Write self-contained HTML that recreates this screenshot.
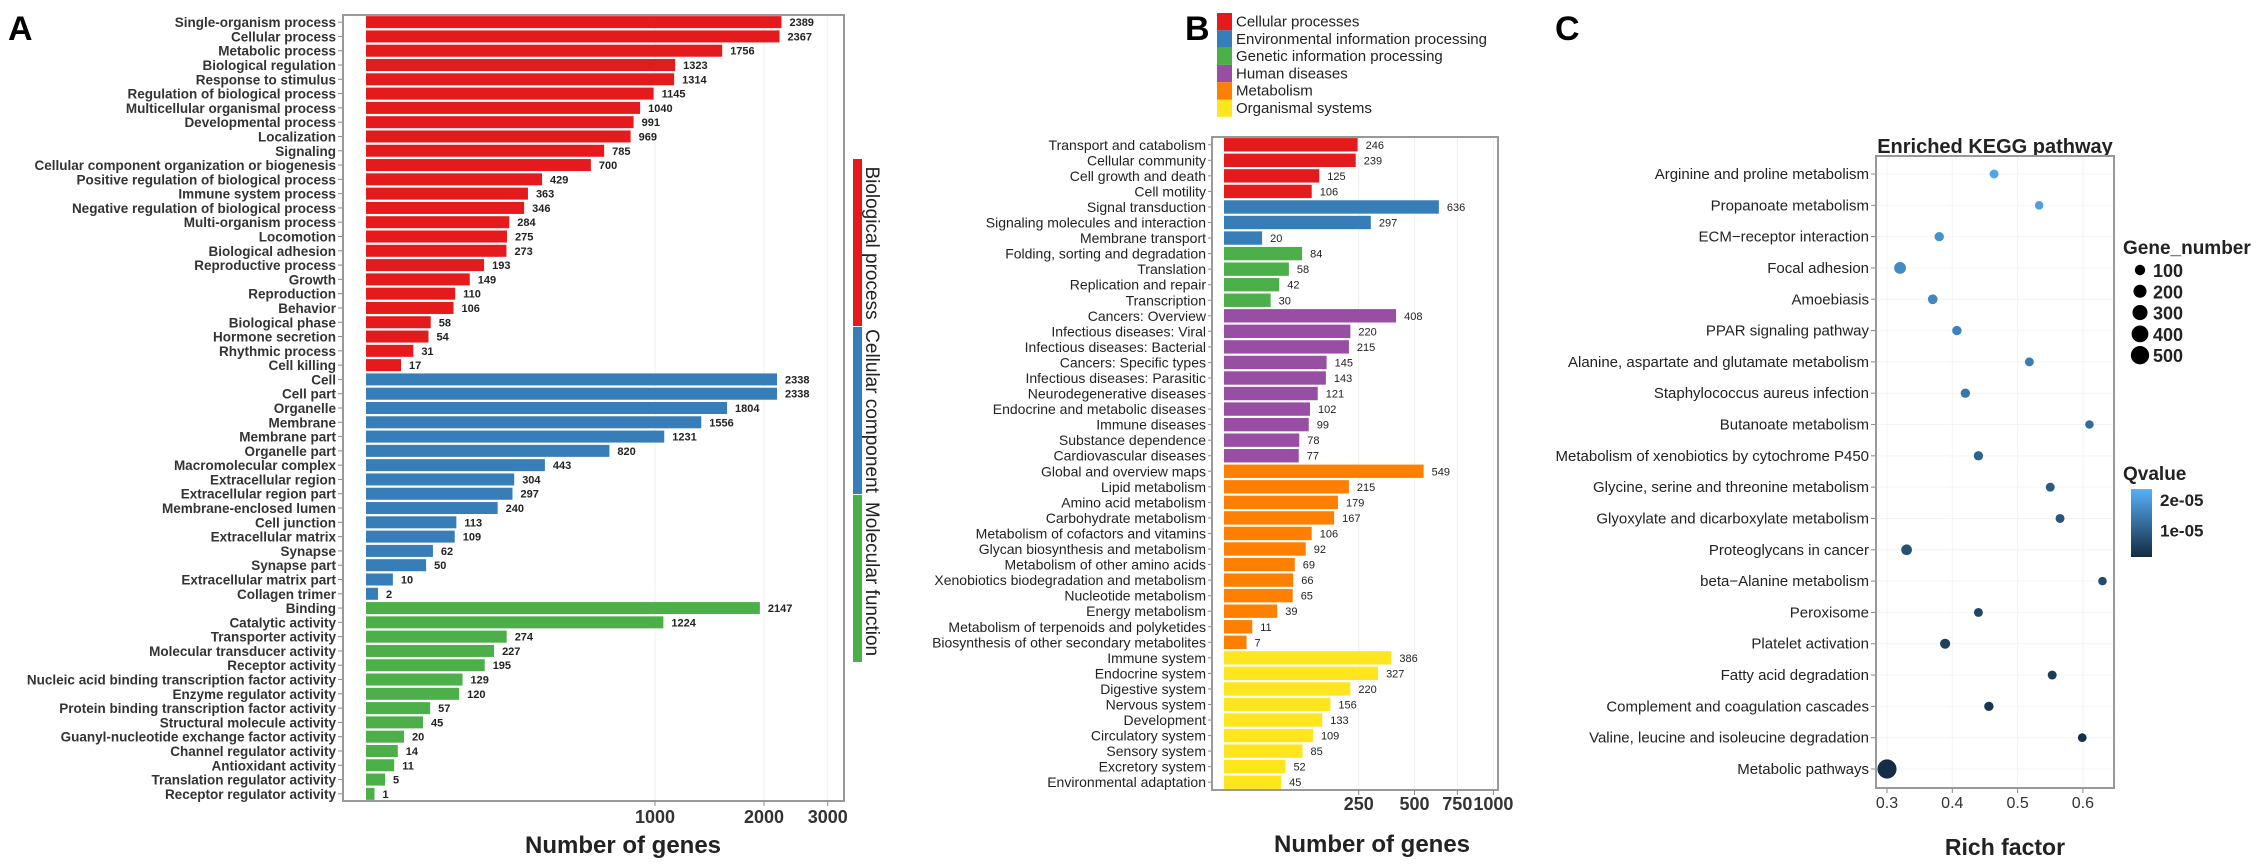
<!DOCTYPE html>
<html><head><meta charset="utf-8">
<style>
html,body{margin:0;padding:0;background:#fff;}
svg{display:block;font-family:"Liberation Sans",Arial,sans-serif;}
</style></head>
<body>
<svg id="fig" width="2268" height="867" viewBox="0 0 2268 867" xmlns="http://www.w3.org/2000/svg">
<text x="8" y="40" font-size="34" font-weight="bold">A</text>
<text x="1185" y="40" font-size="34" font-weight="bold">B</text>
<text x="1555" y="40" font-size="34" font-weight="bold">C</text>
<g id="pa"></g>
<g id="pb"></g>
<g id="pc"></g>
</svg>
<script>
// ---------- Panel A data ----------
const goTerms = ["Single-organism process","Cellular process","Metabolic process","Biological regulation","Response to stimulus","Regulation of biological process","Multicellular organismal process","Developmental process","Localization","Signaling","Cellular component organization or biogenesis","Positive regulation of biological process","Immune system process","Negative regulation of biological process","Multi-organism process","Locomotion","Biological adhesion","Reproductive process","Growth","Reproduction","Behavior","Biological phase","Hormone secretion","Rhythmic process","Cell killing",
"Cell","Cell part","Organelle","Membrane","Membrane part","Organelle part","Macromolecular complex","Extracellular region","Extracellular region part","Membrane-enclosed lumen","Cell junction","Extracellular matrix","Synapse","Synapse part","Extracellular matrix part","Collagen trimer",
"Binding","Catalytic activity","Transporter activity","Molecular transducer activity","Receptor activity","Nucleic acid binding transcription factor activity","Enzyme regulator activity","Protein binding transcription factor activity","Structural molecule activity","Guanyl-nucleotide exchange factor activity","Channel regulator activity","Antioxidant activity","Translation regulator activity","Receptor regulator activity"];
const goCounts = [2389,2367,1756,1323,1314,1145,1040,991,969,785,700,429,363,346,284,275,273,193,149,110,106,58,54,31,17,
2338,2338,1804,1556,1231,820,443,304,297,240,113,109,62,50,10,2,
2147,1224,274,227,195,129,120,57,45,20,14,11,5,1];
const goGroup = [].concat(Array(25).fill(0),Array(16).fill(1),Array(14).fill(2));
const goGroupNames = ["Biological process","Cellular component","Molecular function"];
const goTicks = [1000,2000,3000];

// ---------- Panel B data ----------
const keggTerms = ["Transport and catabolism","Cellular community","Cell growth and death","Cell motility","Signal transduction","Signaling molecules and interaction","Membrane transport","Folding, sorting and degradation","Translation","Replication and repair","Transcription","Cancers: Overview","Infectious diseases: Viral","Infectious diseases: Bacterial","Cancers: Specific types","Infectious diseases: Parasitic","Neurodegenerative diseases","Endocrine and metabolic diseases","Immune diseases","Substance dependence","Cardiovascular diseases","Global and overview maps","Lipid metabolism","Amino acid metabolism","Carbohydrate metabolism","Metabolism of cofactors and vitamins","Glycan biosynthesis and metabolism","Metabolism of other amino acids","Xenobiotics biodegradation and metabolism","Nucleotide metabolism","Energy metabolism","Metabolism of terpenoids and polyketides","Biosynthesis of other secondary metabolites","Immune system","Endocrine system","Digestive system","Nervous system","Development","Circulatory system","Sensory system","Excretory system","Environmental adaptation"];
const keggCounts = [246,239,125,106,636,297,20,84,58,42,30,408,220,215,145,143,121,102,99,78,77,549,215,179,167,106,92,69,66,65,39,11,7,386,327,220,156,133,109,85,52,45];
const keggClass = [0,0,0,0,1,1,1,2,2,2,2,3,3,3,3,3,3,3,3,3,3,4,4,4,4,4,4,4,4,4,4,4,4,5,5,5,5,5,5,5,5,5];
const keggClassNames = ["Cellular processes","Environmental information processing","Genetic information processing","Human diseases","Metabolism","Organismal systems"];
const keggTicks = [250,500,750,1000];

// ---------- Panel C data ----------
const pathways = ["Arginine and proline metabolism","Propanoate metabolism","ECM\u2212receptor interaction","Focal adhesion","Amoebiasis","PPAR signaling pathway","Alanine, aspartate and glutamate metabolism","Staphylococcus aureus infection","Butanoate metabolism","Metabolism of xenobiotics by cytochrome P450","Glycine, serine and threonine metabolism","Glyoxylate and dicarboxylate metabolism","Proteoglycans in cancer","beta\u2212Alanine metabolism","Peroxisome","Platelet activation","Fatty acid degradation","Complement and coagulation cascades","Valine, leucine and isoleucine degradation","Metabolic pathways"];
const richFactor = [0.464,0.533,0.380,0.320,0.370,0.407,0.518,0.420,0.610,0.440,0.550,0.565,0.330,0.630,0.440,0.389,0.553,0.456,0.599,0.300];
const geneNumber = [60,50,70,150,80,70,60,70,50,70,60,60,110,50,60,90,60,70,55,560];
const qValue = [2.3e-5,2.2e-5,1.9e-5,1.8e-5,1.7e-5,1.6e-5,1.5e-5,1.4e-5,1.2e-5,1.0e-5,9e-6,8e-6,7e-6,6e-6,5e-6,4e-6,3e-6,2e-6,1e-6,5e-7];
const rfTicks = [0.3,0.4,0.5,0.6];
const sizeLegend = [100,200,300,400,500];
const qTicks = [2e-5,1e-5];

const NS = "http://www.w3.org/2000/svg";
function mk(parent, tag, attrs, txt){
  const e = document.createElementNS(NS, tag);
  for (const k in attrs) e.setAttribute(k, attrs[k]);
  if (txt !== undefined) e.textContent = txt;
  parent.appendChild(e);
  return e;
}

// ================= Panel A =================
(function(){
  const g = document.getElementById('pa');
  const x0 = 366, k = 8.5, top = 15, bottom = 801, left = 343, right = 844;
  const band = (bottom - top) / goTerms.length;
  const xs = v => x0 + k * Math.sqrt(v);
  const xt_ = t => 655 + 362 * Math.log10(t / 1000);
  const yc = i => top + band * (i + 0.5);
  const colors = ["#E41A1C","#377EB8","#4DAF4A"];
  for (const t of goTicks) {
    const l = mk(g,'line',{x1:xt_(t),x2:xt_(t),y1:top,y2:bottom,stroke:"#f0f0f0","stroke-width":1});
    
    
  }
  goTerms.forEach((name,i)=>{
    const y = yc(i);
    const r = mk(g,'rect',{x:x0,y:y-band*0.42,width:xs(goCounts[i])-x0,height:band*0.84,fill:colors[goGroup[i]]});
    
    
    const v = mk(g,'text',{x:xs(goCounts[i])+8,y:y+4,"font-size":11,"font-weight":"bold",fill:"#222"},String(goCounts[i]));
    
    
    const lb = mk(g,'text',{x:336,y:y+5,"font-size":13.5,"font-weight":"bold","text-anchor":"end",fill:"#333"},name);
    
    
    const tk = mk(g,'line',{x1:338,x2:343,y1:y,y2:y,stroke:"#888","stroke-width":1});
    
    
  });
  const box = mk(g,'rect',{x:left,y:top,width:right-left,height:bottom-top,fill:"none",stroke:"#999","stroke-width":2});
  
  
  for (const t of goTicks) {
    const tk = mk(g,'line',{x1:xt_(t),x2:xt_(t),y1:bottom,y2:bottom+5,stroke:"#888","stroke-width":1});
    
    
    const tl = mk(g,'text',{x:xt_(t),y:823,"font-size":18,"font-weight":"bold","text-anchor":"middle",fill:"#333"},String(t));
    
    
  }
  const xt = mk(g,'text',{x:623,y:853,"font-size":24,"font-weight":"bold","text-anchor":"middle",fill:"#222"},"Number of genes");
  
  
  const segTop = 159, segH = 168;
  goGroupNames.forEach((n,j)=>{
    const s = mk(g,'rect',{x:853,y:segTop+j*segH,width:9,height:segH-1,fill:colors[j]});
    
    
    const cy = segTop + j*segH + segH/2;
    const t = mk(g,'text',{x:0,y:0,"font-size":19,"text-anchor":"middle",fill:"#222",transform:`translate(866,${cy}) rotate(90)`},n);
    
    
  });
})();

// ================= Panel B =================
(function(){
  const g = document.getElementById('pb');
  const x0 = 1224, k = 8.52, top = 137, bottom = 790, left = 1212, right = 1498;
  const band = (bottom - top) / keggTerms.length;
  const xs = v => x0 + k * Math.sqrt(v);
  const yc = i => top + band * (i + 0.5);
  const colors = ["#E41A1C","#377EB8","#4DAF4A","#984EA3","#FF7F00","#FFE51E"];
  keggClassNames.forEach((n,j)=>{
    const r = mk(g,'rect',{x:1217,y:13+j*17.3,width:15,height:17.3,fill:colors[j]});
    
    
    const t = mk(g,'text',{x:1236,y:13+j*17.3+13.5,"font-size":15,fill:"#222"},n);
    
    
  });
  for (const t of keggTicks) {
    const l = mk(g,'line',{x1:xs(t),x2:xs(t),y1:top,y2:bottom,stroke:"#f0f0f0","stroke-width":1});
    
    
  }
  keggTerms.forEach((name,i)=>{
    const y = yc(i);
    const r = mk(g,'rect',{x:x0,y:y-band*0.43,width:xs(keggCounts[i])-x0,height:band*0.86,fill:colors[keggClass[i]]});
    
    
    const v = mk(g,'text',{x:xs(keggCounts[i])+8,y:y+4,"font-size":11,fill:"#222"},String(keggCounts[i]));
    
    
    const lb = mk(g,'text',{x:1206,y:y+5,"font-size":14,"text-anchor":"end",fill:"#222"},name);
    
    
    const tk = mk(g,'line',{x1:1208,x2:1212,y1:y,y2:y,stroke:"#888","stroke-width":1});
    
    
  });
  const box = mk(g,'rect',{x:left,y:top,width:right-left,height:bottom-top,fill:"none",stroke:"#999","stroke-width":2});
  
  
  for (const t of keggTicks) {
    const tk = mk(g,'line',{x1:xs(t),x2:xs(t),y1:bottom,y2:bottom+5,stroke:"#888","stroke-width":1});
    
    
    const tl = mk(g,'text',{x:xs(t),y:810,"font-size":18,"font-weight":"bold","text-anchor":"middle",fill:"#333"},String(t));
    
    
  }
  const xt = mk(g,'text',{x:1372,y:852,"font-size":24,"font-weight":"bold","text-anchor":"middle",fill:"#222"},"Number of genes");
  
  
})();

// ================= Panel C =================
(function(){
  const g = document.getElementById('pc');
  const left = 1876, right = 2114, top = 156, bottom = 788;
  const xs = v => 1887 + (v - 0.3) * 653;
  const y0 = 174, step = (769 - 174) / (pathways.length - 1);
  const yc = i => y0 + step * i;
  const rs = n => 2 + Math.sqrt(n) * 0.32;
  const c1 = [0x56,0xB1,0xF7], c0 = [0x13,0x2B,0x43];
  const qMin = 0, qMax = 2.5e-5;
  const qc = q => { const t = Math.max(0,Math.min(1,(q-qMin)/(qMax-qMin))); return 'rgb('+c0.map((c,j)=>Math.round(c+(c1[j]-c)*t)).join(',')+')'; };
  const tt = mk(g,'text',{x:1995,y:153,"font-size":20,"font-weight":"bold","text-anchor":"middle",fill:"#222"},"Enriched KEGG pathway");
  
  
  for (const t of rfTicks) {
    const l = mk(g,'line',{x1:xs(t),x2:xs(t),y1:top,y2:bottom,stroke:"#f4f4f4","stroke-width":1});
    
    
  }
  pathways.forEach((name,i)=>{
    const y = yc(i);
    const gl = mk(g,'line',{x1:left,x2:right,y1:y,y2:y,stroke:"#f4f4f4","stroke-width":1});
    
    
    const lb = mk(g,'text',{x:1869,y:y+5,"font-size":15,"text-anchor":"end",fill:"#222"},name);
    
    
    const tk = mk(g,'line',{x1:1871,x2:1876,y1:y,y2:y,stroke:"#888","stroke-width":1});
    
    
  });
  pathways.forEach((name,i)=>{
    const d = mk(g,'circle',{cx:xs(richFactor[i]),cy:yc(i),r:rs(geneNumber[i]),fill:qc(qValue[i])});
    
    
  });
  const box = mk(g,'rect',{x:left,y:top,width:right-left,height:bottom-top,fill:"none",stroke:"#999","stroke-width":2});
  
  
  for (const t of rfTicks) {
    const tk = mk(g,'line',{x1:xs(t),x2:xs(t),y1:bottom,y2:bottom+5,stroke:"#888","stroke-width":1});
    
    
    const tl = mk(g,'text',{x:xs(t),y:808,"font-size":16,"text-anchor":"middle",fill:"#333"},String(t));
    
    
  }
  const xt = mk(g,'text',{x:2005,y:855,"font-size":23,"font-weight":"bold","text-anchor":"middle",fill:"#222"},"Rich factor");
  
  
  const lt = mk(g,'text',{x:2123,y:254,"font-size":19,"font-weight":"bold",fill:"#222"},"Gene_number");
  
  
  sizeLegend.forEach((n,j)=>{
    const y = 270 + j*21.3;
    const c = mk(g,'circle',{cx:2140,cy:y,r:rs(n),fill:"#000"});
    
    
    const t = mk(g,'text',{x:2153,y:y+7,"font-size":18,"font-weight":"bold",fill:"#222"},String(n));
    
    
  });
  const qt = mk(g,'text',{x:2123,y:480,"font-size":19,"font-weight":"bold",fill:"#222"},"Qvalue");
  
  
  const defs = mk(g,'defs',{});
  const lg = mk(defs,'linearGradient',{id:'qgrad',x1:0,y1:0,x2:0,y2:1});
  mk(lg,'stop',{offset:0,"stop-color":"#56B1F7"});
  mk(lg,'stop',{offset:1,"stop-color":"#132B43"});
  const cbTop = 489, cbBot = 557;
  const cb = mk(g,'rect',{x:2131,y:cbTop,width:21,height:cbBot-cbTop,fill:"url(#qgrad)"});
  
  
  const qy = q => cbBot - (q - 1.5e-6) / (2.35e-5 - 1.5e-6) * (cbBot - cbTop);
  qTicks.forEach(q=>{
    const t = mk(g,'text',{x:2160,y:qy(q)+6,"font-size":17,"font-weight":"bold",fill:"#222"},q===2e-5?"2e-05":"1e-05");
    
    
  });
})();
</script>
</body></html>
